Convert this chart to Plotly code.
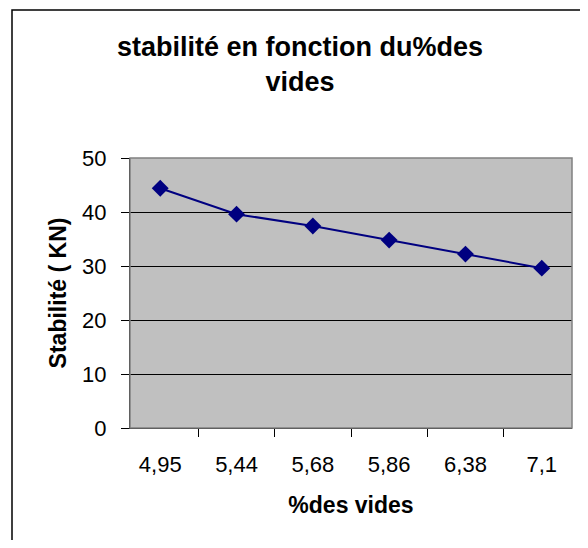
import plotly.graph_objects as go

categories = ["4,95", "5,44", "5,68", "5,86", "6,38", "7,1"]
stabilite = [44.4, 39.6, 37.4, 34.8, 32.2, 29.6]
y_ticks = [0, 10, 20, 30, 40, 50]

# page body has an 8px margin; figure coordinates below are page - 8
W, H = 580, 532
L, R, T, B = 122, 16, 150, 112
pw, ph = W - L - R, H - T - B

def px(x):
    return (x - L) / pw

def py(y):
    return (H - B - y) / ph

fig = go.Figure()
fig.add_trace(go.Scatter(
    x=categories, y=stabilite, mode="lines+markers",
    line=dict(color="#000080", width=2),
    marker=dict(symbol="diamond", size=13, color="#000080"),
    showlegend=False, cliponaxis=False,
))

fig.update_layout(
    width=W, height=H,
    margin=dict(l=L, r=R, t=T, b=B),
    paper_bgcolor="white", plot_bgcolor="#C0C0C0",
    font=dict(family="Liberation Sans, Arial, sans-serif", color="black", size=22),
    title=dict(
        text="<b>stabilité en fonction du%des<br>vides</b>",
        x=292 / W, xanchor="center", y=1 - 48 / H, yanchor="top",
        font=dict(size=27),
    ),
    xaxis=dict(
        type="category", tickson="boundaries", ticks="outside", ticklen=8,
        tickcolor="black", showgrid=False, showline=True, linecolor="black",
        linewidth=1, mirror=False, tickfont=dict(size=22), ticklabelstandoff=17,
        title=dict(text="<b>%des vides</b>", font=dict(size=23), standoff=20),
    ),
    yaxis=dict(
        range=[0, 50], tickvals=y_ticks, ticks="outside", ticklen=8,
        tickcolor="black", showgrid=True, gridcolor="black", gridwidth=1,
        showline=True, linecolor="black", linewidth=1, zeroline=False,
        tickfont=dict(size=22), ticklabelstandoff=10,
        title=dict(text="<b>Stabilité ( KN)</b>", font=dict(size=23), standoff=9),
    ),
    shapes=[
        dict(type="rect", xref="paper", yref="paper", x0=0, y0=0, x1=1, y1=1,
             line=dict(color="#808080", width=1.5), layer="above"),
        dict(type="rect", xref="paper", yref="paper",
             x0=px(4), y0=py(620), x1=px(640), y1=py(2),
             line=dict(color="black", width=1.5)),
    ],
)

fig.write_html("out.html")
